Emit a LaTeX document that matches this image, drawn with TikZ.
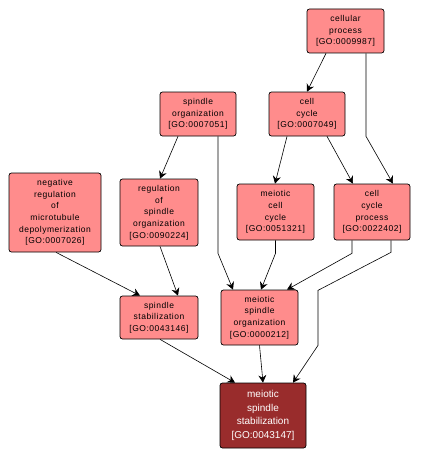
\documentclass[tikz,border=0pt]{standalone}
\usepackage{fontspec}
\setmainfont{Liberation Sans}
\newfontfamily\boxfont[LetterSpace=6]{Liberation Sans}
\usetikzlibrary{arrows.meta,calc}
\definecolor{salmon}{HTML}{FF8C8C}
\definecolor{darkred}{HTML}{992C2C}
\tikzset{
  gobox/.style={draw=black, line width=0.7pt, rounded corners=2.5pt, fill=salmon, align=center,
    inner sep=0pt, font=\boxfont\fontsize{8.5}{11.7}\selectfont, text=black},
  focusbox/.style={gobox, fill=darkred, text=white, font=\fontsize{10}{13.8}\selectfont},
  edge/.style={line width=0.6pt, -{Stealth[length=7.5pt,width=8pt,inset=2.5pt]}}
}
\begin{document}
\begin{tikzpicture}[x=1pt,y=-1pt]
\useasboundingbox (0,0) rectangle (421,460);
\node[gobox, minimum width=77, minimum height=44] (cp) at (345.5,31) {cellular\\process\\{[GO:0009987]}};
\node[gobox, minimum width=76, minimum height=44] (so) at (198,114) {spindle\\organization\\{[GO:0007051]}};
\node[gobox, minimum width=76, minimum height=44] (cc) at (307,114) {cell\\cycle\\{[GO:0007049]}};
\node[gobox, minimum width=92, minimum height=79] (neg) at (55,212.5) {negative\\regulation\\of\\microtubule\\depolymerization\\{[GO:0007026]}};
\node[gobox, minimum width=78, minimum height=67] (reg) at (159,212.5) {regulation\\of\\spindle\\organization\\{[GO:0090224]}};
\node[gobox, minimum width=77, minimum height=56] (mcc) at (275.5,212) {meiotic\\cell\\cycle\\{[GO:0051321]}};
\node[gobox, minimum width=76, minimum height=56] (ccp) at (372,212) {cell\\cycle\\process\\{[GO:0022402]}};
\node[gobox, minimum width=78, minimum height=43] (ss) at (159,317.5) {spindle\\stabilization\\{[GO:0043146]}};
\node[gobox, minimum width=77, minimum height=55] (mso) at (259.5,317.5) {meiotic\\spindle\\organization\\{[GO:0000212]}};
\node[focusbox, minimum width=86, minimum height=65] (mss) at (263,415.5) {meiotic\\spindle\\stabilization\\{[GO:0043147]}};

\draw[edge] ([xshift=-19.5pt]cp.south) -- (cc.north);
\draw[edge] ([xshift=20.5pt]cp.south) -- ++(0,83) -- ([xshift=21pt]ccp.north);
\draw[edge] ([xshift=-20pt]so.south) -- ([xshift=1pt]reg.north);
\draw[edge] ([xshift=20pt]so.south) -- ++(0,117) -- ([xshift=-26.5pt]mso.north);
\draw[edge] ([xshift=-20pt]cc.south) -- ([xshift=-0.5pt]mcc.north);
\draw[edge] ([xshift=20pt]cc.south) -- ([xshift=-19pt]ccp.north);
\draw[edge] ([xshift=1pt]neg.south) -- ([xshift=-19pt]ss.north);
\draw[edge] ([xshift=1pt]reg.south) -- ([xshift=19pt]ss.north);
\draw[edge] (mcc.south) -- ++(0,13) -- ([xshift=1.5pt]mso.north);
\draw[edge] ([xshift=-20pt]ccp.south) -- ++(0,13) -- ([xshift=27.5pt]mso.north);
\draw[edge] ([xshift=19pt]ccp.south) -- ++(0,12) -- ++(-73,38) -- ++(0,55) -- ([xshift=30pt]mss.north);
\draw[edge] ([xshift=1pt]ss.south) -- ([xshift=-28pt]mss.north);
\draw[edge] (mso.south) -- (mss.north);
\end{tikzpicture}
\end{document}
